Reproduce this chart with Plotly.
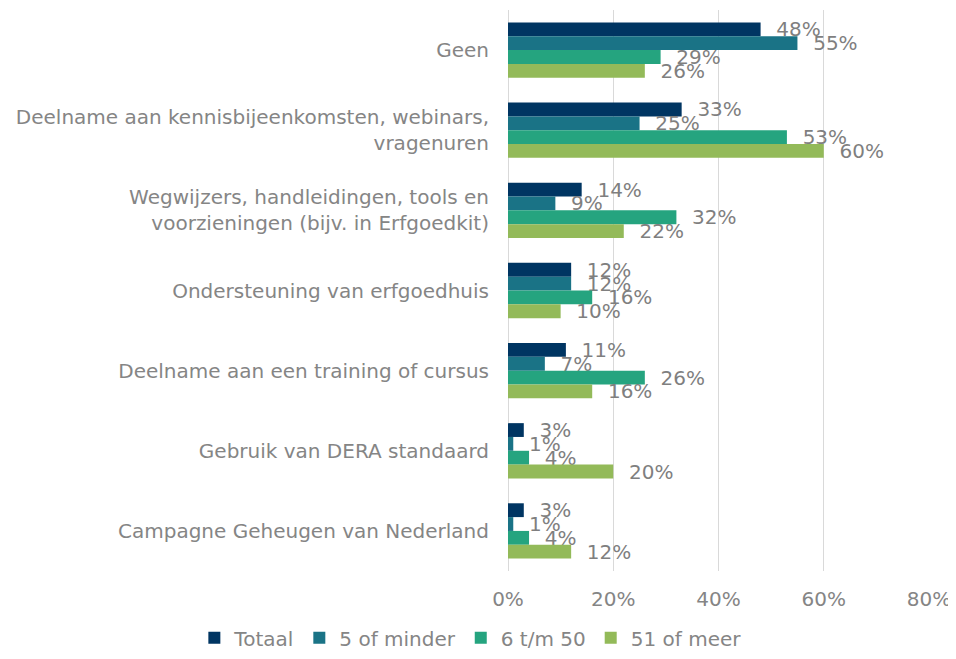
import plotly.graph_objects as go

categories = [
    "Geen",
    "Deelname aan kennisbijeenkomsten, webinars,<br>vragenuren",
    "Wegwijzers, handleidingen, tools en<br>voorzieningen (bijv. in Erfgoedkit)",
    "Ondersteuning van erfgoedhuis",
    "Deelname aan een training of cursus",
    "Gebruik van DERA standaard",
    "Campagne Geheugen van Nederland",
]
series_names = ["Totaal", "5 of minder", "6 t/m 50", "51 of meer"]
totaal = [48, 33, 14, 12, 11, 3, 3]
vijf_of_minder = [55, 25, 9, 12, 7, 1, 1]
zes_tm_50 = [29, 53, 32, 16, 26, 4, 4]
eenenvijftig_of_meer = [26, 60, 22, 10, 16, 20, 12]
x_ticks = [0, 20, 40, 60, 80]
x_tick_labels = ["0%", "20%", "40%", "60%", "80%"]

colors = ["#003562", "#1a7386", "#25a47f", "#93ba59"]
values = [totaal, vijf_of_minder, zes_tm_50, eenenvijftig_of_meer]
FONT = "DejaVu Sans"
GRAY = "#7f7f7f"
AXGRAY = "#858585"

fig = go.Figure()
for name, vals, col in zip(series_names, values, colors):
    fig.add_trace(go.Bar(
        y=categories, x=vals, name=name, orientation="h",
        marker=dict(color=col, line=dict(width=0)),
        texttemplate="\u2007%{x:.0f}%", textposition="outside",
        textfont=dict(family=FONT, size=20, color=GRAY),
        constraintext="none", cliponaxis=False,
    ))

fig.update_layout(
    width=948, height=643,
    margin=dict(l=500, r=27, t=2, b=80, autoexpand=False),
    paper_bgcolor="white", plot_bgcolor="white",
    barmode="group", bargap=0.31, bargroupgap=0,
    font=dict(family=FONT, size=20, color=AXGRAY),
    showlegend=True,
    legend=dict(orientation="h", x=-0.745, xanchor="left",
                y=-0.119, yanchor="middle",
                font=dict(family=FONT, size=20, color=AXGRAY), traceorder="normal",
                itemwidth=30, bgcolor="rgba(0,0,0,0)"),
    xaxis=dict(range=[0, 80], tickvals=x_ticks, ticktext=x_tick_labels,
               showgrid=True, gridcolor="#d9d9d9", gridwidth=1,
               zeroline=True, zerolinecolor="#d9d9d9", zerolinewidth=1,
               showline=False, ticks="", ticklabelstandoff=14, automargin=False,
               tickfont=dict(family=FONT, size=20, color=AXGRAY)),
    yaxis=dict(autorange="reversed", showgrid=False, showline=False, ticks="",
               ticklabelstandoff=18, automargin=False,
               tickfont=dict(family=FONT, size=20, color=AXGRAY)),
)

fig.write_html("out.html")
